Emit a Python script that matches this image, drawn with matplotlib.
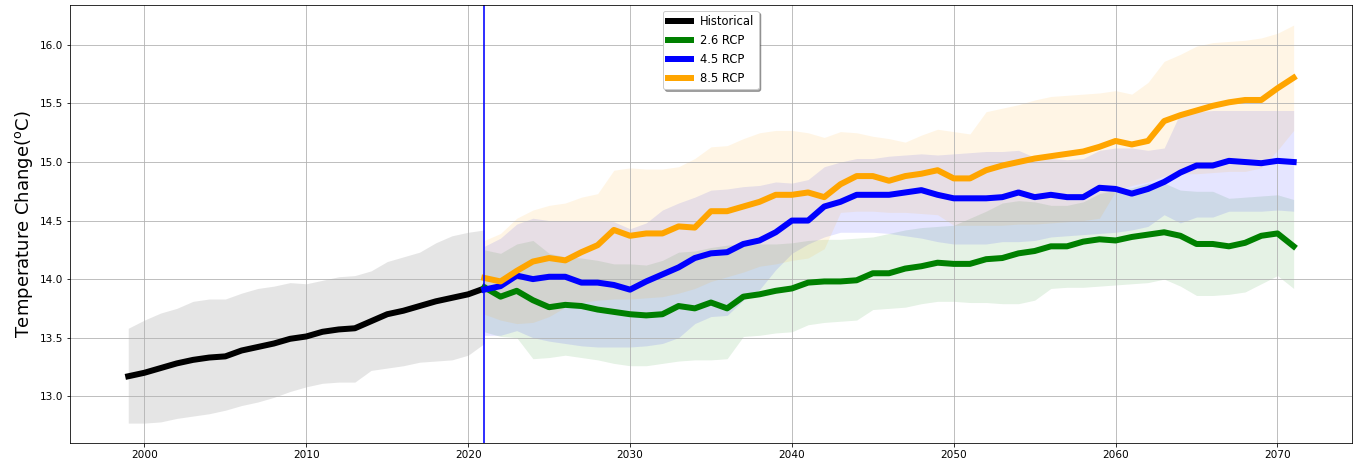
#!/usr/bin/env python3
"""Temperature projections: historical mean plus three RCP scenarios with spread bands."""

import matplotlib
matplotlib.use("Agg")
import matplotlib.pyplot as plt

# --- data -------------------------------------------------------------------
hist_years = list(range(1999, 2022))
hist_mean = [13.17, 13.20, 13.24, 13.28, 13.31, 13.33, 13.34, 13.39, 13.42, 13.45,
             13.49, 13.51, 13.55, 13.57, 13.58, 13.64, 13.70, 13.73, 13.77, 13.81,
             13.84, 13.87, 13.92]
hist_lo = [12.77, 12.77, 12.78, 12.81, 12.83, 12.85, 12.88, 12.92, 12.95, 12.99,
           13.04, 13.08, 13.11, 13.12, 13.12, 13.22, 13.24, 13.26, 13.29, 13.30,
           13.31, 13.35, 13.45]
hist_hi = [13.58, 13.65, 13.71, 13.75, 13.81, 13.83, 13.83, 13.88, 13.92, 13.94,
           13.97, 13.96, 13.99, 14.02, 14.03, 14.07, 14.15, 14.19, 14.23, 14.31,
           14.37, 14.40, 14.42]

proj_years = list(range(2021, 2072))

rcp26_mean = [13.93, 13.85, 13.90, 13.82, 13.76, 13.78, 13.77, 13.74, 13.72, 13.70,
              13.69, 13.70, 13.77, 13.75, 13.80, 13.75, 13.85, 13.87, 13.90, 13.92,
              13.97, 13.98, 13.98, 13.99, 14.05, 14.05, 14.09, 14.11, 14.14, 14.13,
              14.13, 14.17, 14.18, 14.22, 14.24, 14.28, 14.28, 14.32, 14.34, 14.33,
              14.36, 14.38, 14.40, 14.37, 14.30, 14.30, 14.28, 14.31, 14.37, 14.39,
              14.28]
rcp26_lo = [13.55, 13.51, 13.50, 13.32, 13.33, 13.35, 13.33, 13.31, 13.28, 13.26,
            13.26, 13.28, 13.30, 13.31, 13.31, 13.32, 13.51, 13.52, 13.54, 13.55,
            13.61, 13.63, 13.64, 13.65, 13.74, 13.75, 13.76, 13.79, 13.81, 13.81,
            13.80, 13.80, 13.79, 13.79, 13.82, 13.92, 13.93, 13.93, 13.94, 13.95,
            13.96, 13.97, 14.00, 13.94, 13.86, 13.86, 13.87, 13.89, 13.96, 14.03,
            13.92]
rcp26_hi = [14.25, 14.22, 14.30, 14.33, 14.22, 14.19, 14.18, 14.16, 14.13, 14.13,
            14.12, 14.16, 14.23, 14.24, 14.27, 14.29, 14.30, 14.30, 14.30, 14.31,
            14.33, 14.34, 14.34, 14.35, 14.36, 14.39, 14.42, 14.44, 14.45, 14.46,
            14.52, 14.58, 14.65, 14.67, 14.66, 14.63, 14.63, 14.66, 14.73, 14.76,
            14.78, 14.82, 14.82, 14.76, 14.75, 14.75, 14.69, 14.70, 14.71, 14.72,
            14.68]

rcp45_mean = [13.91, 13.94, 14.03, 14.00, 14.02, 14.02, 13.97, 13.97, 13.95, 13.91,
              13.98, 14.04, 14.10, 14.18, 14.22, 14.23, 14.30, 14.33, 14.40, 14.50,
              14.50, 14.62, 14.66, 14.72, 14.72, 14.72, 14.74, 14.76, 14.72, 14.69,
              14.69, 14.69, 14.70, 14.74, 14.70, 14.72, 14.70, 14.70, 14.78, 14.77,
              14.73, 14.77, 14.83, 14.91, 14.97, 14.97, 15.01, 15.00, 14.99, 15.01,
              15.00]
rcp45_lo = [13.52, 13.52, 13.56, 13.50, 13.47, 13.45, 13.43, 13.42, 13.42, 13.42,
            13.43, 13.45, 13.50, 13.62, 13.68, 13.69, 13.82, 13.91, 14.08, 14.22,
            14.30, 14.36, 14.40, 14.40, 14.40, 14.39, 14.37, 14.35, 14.32, 14.30,
            14.30, 14.30, 14.32, 14.32, 14.33, 14.36, 14.37, 14.38, 14.39, 14.40,
            14.42, 14.45, 14.55, 14.48, 14.53, 14.53, 14.58, 14.58, 14.58, 14.59,
            14.58]
rcp45_hi = [14.28, 14.35, 14.47, 14.52, 14.50, 14.50, 14.50, 14.50, 14.49, 14.43,
            14.48, 14.59, 14.65, 14.70, 14.76, 14.77, 14.79, 14.80, 14.83, 14.82,
            14.85, 14.96, 15.00, 15.03, 15.03, 15.05, 15.06, 15.07, 15.06, 15.07,
            15.08, 15.09, 15.09, 15.10, 15.04, 15.03, 15.02, 15.03, 15.10, 15.12,
            15.12, 15.10, 15.12, 15.42, 15.43, 15.44, 15.44, 15.44, 15.44, 15.44,
            15.44]

rcp85_mean = [14.01, 13.98, 14.07, 14.15, 14.18, 14.16, 14.23, 14.29, 14.42, 14.37,
              14.39, 14.39, 14.45, 14.44, 14.58, 14.58, 14.62, 14.66, 14.72, 14.72,
              14.74, 14.70, 14.81, 14.88, 14.88, 14.84, 14.88, 14.90, 14.93, 14.86,
              14.86, 14.93, 14.97, 15.00, 15.03, 15.05, 15.07, 15.09, 15.13, 15.18,
              15.15, 15.18, 15.35, 15.40, 15.44, 15.48, 15.51, 15.53, 15.53, 15.63,
              15.72]
rcp85_lo = [13.70, 13.65, 13.62, 13.63, 13.68, 13.76, 13.80, 13.82, 13.83, 13.83,
            13.84, 13.85, 13.88, 13.92, 13.98, 14.02, 14.06, 14.11, 14.13, 14.16,
            14.18, 14.26, 14.57, 14.58, 14.58, 14.57, 14.57, 14.56, 14.55, 14.46,
            14.46, 14.46, 14.46, 14.47, 14.47, 14.48, 14.49, 14.50, 14.52, 14.75,
            14.80, 14.83, 14.88, 14.90, 14.90, 14.91, 14.92, 14.92, 14.95, 15.10,
            15.27]
rcp85_hi = [14.33, 14.39, 14.52, 14.59, 14.63, 14.65, 14.70, 14.73, 14.93, 14.95,
            14.94, 14.94, 14.96, 15.03, 15.13, 15.14, 15.20, 15.25, 15.27, 15.27,
            15.25, 15.21, 15.26, 15.25, 15.22, 15.20, 15.17, 15.23, 15.28, 15.26,
            15.24, 15.43, 15.46, 15.49, 15.53, 15.56, 15.57, 15.58, 15.59, 15.61,
            15.58, 15.68, 15.86, 15.92, 15.99, 16.02, 16.03, 16.04, 16.06, 16.10,
            16.17]

scenarios = [
    ("2.6 RCP", "green", rcp26_mean, rcp26_lo, rcp26_hi),
    ("4.5 RCP", "blue", rcp45_mean, rcp45_lo, rcp45_hi),
    ("8.5 RCP", "orange", rcp85_mean, rcp85_lo, rcp85_hi),
]


def main() -> int:
    fig = plt.figure(figsize=(1356 / 72, 468 / 72), dpi=72)
    ax = fig.add_axes([0.0516, 0.0534, 0.9454, 0.9356])

    ax.plot(hist_years, hist_mean, color="black", lw=6, label="Historical")
    ax.fill_between(hist_years, hist_lo, hist_hi, color="gray", alpha=0.2, lw=0)

    for label, color, mean, lo, hi in scenarios:
        ax.plot(proj_years, mean, color=color, lw=6, label=label)
        ax.fill_between(proj_years, lo, hi, color=color, alpha=0.1, lw=0)

    ax.axvline(2021, color="blue", lw=1.6)

    ax.set_ylabel(r"Temperature Change($^\mathrm{o}$C)", fontsize=18)
    ax.tick_params(labelsize=10.5)
    ax.grid(True)
    ax.legend(loc="upper center", shadow=True, fontsize=11.5)

    fig.savefig("out.png", dpi=72)
    plt.close(fig)
    return 0


if __name__ == "__main__":
    raise SystemExit(main())
